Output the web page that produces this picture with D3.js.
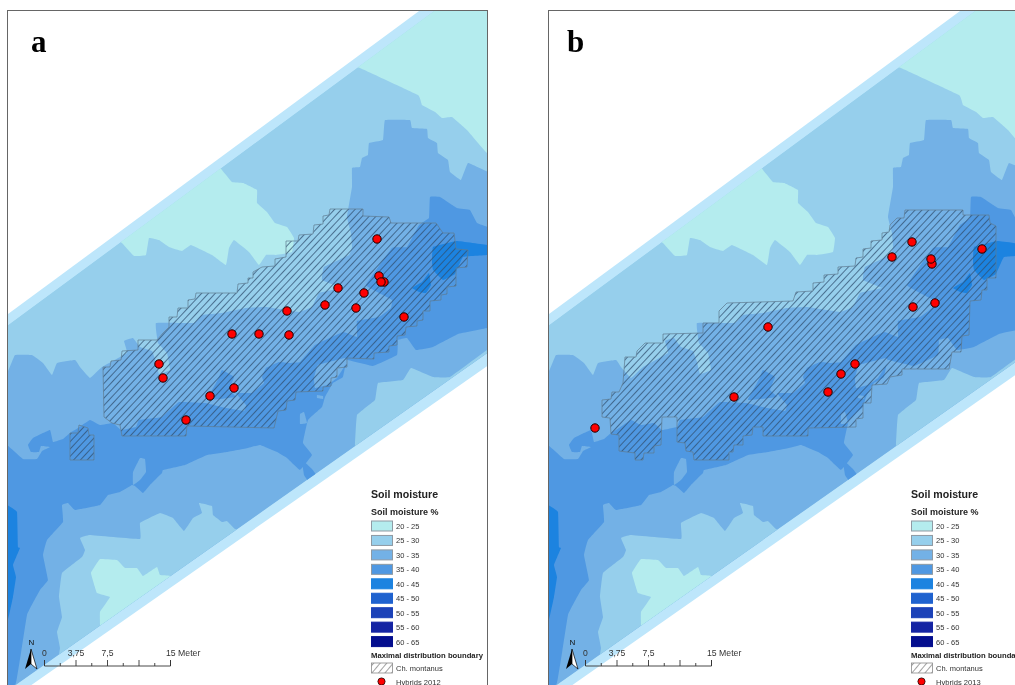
<!DOCTYPE html>
<html>
<head>
<meta charset="utf-8">
<style>
  html, body { margin: 0; padding: 0; background: #fff; overflow: hidden; }
  svg { display: block; filter: blur(0.45px); }
  text { font-family: "Liberation Sans", Arial, sans-serif; }
</style>
<script src="https://cdnjs.cloudflare.com/ajax/libs/d3/7.8.5/d3.min.js"></script>
</head>
<body>
<svg width="1015" height="685"></svg>
<script>
// soil moisture classes
var classLabels = ["20 - 25", "25 - 30", "30 - 35", "35 - 40", "40 - 45", "45 - 50", "50 - 55", "55 - 60", "60 - 65"];
var classColors = ["#b4ecee", "#96cfec", "#73b1e6", "#4f98e2", "#1c83e0", "#1f62cf", "#1c42b8", "#1524a3", "#040e8e"];

// map outlines, in map units
var outerBand = [[0,320],[434,0],[520,0],[520,343],[0,707]];
var innerBand = [[0,331],[449,0],[520,0],[520,330],[0,696]];

var tealNorth = [[340,60],[360,68],[418,95],[422,105],[435,112],[442,118],[452,117],[467,130],[487,153],[520,170],[520,-20],[430,-20]];
var tealMiddle = [[222,170],[232,182],[243,183],[257,190],[257,203],[267,212],[275,223],[287,227],[294,238],[292,252],[276,255],[266,255],[259,265],[249,252],[234,240],[229,248],[226,265],[212,255],[191,245],[182,251],[169,247],[159,240],[149,238],[146,255],[134,256],[122,243],[100,220],[200,140]];
var tealSouth = [[100,559],[117,560],[125,568],[137,568],[143,576],[157,567],[160,575],[170,576],[200,600],[100,680],[100,625],[100,612],[110,597],[97,593],[91,573]];

var zone30 = [[-10,376],[8,371],[15,355],[32,355],[43,363],[52,375],[57,363],[75,360],[80,367],[90,378],[102,367],[127,353],[124,341],[133,338],[140,347],[152,351],[156,362],[159,374],[170,370],[167,353],[158,343],[156,323],[194,323],[202,315],[222,313],[246,308],[266,307],[299,312],[312,307],[319,293],[341,288],[322,280],[324,267],[349,255],[352,247],[351,233],[347,217],[352,187],[352,168],[360,167],[362,158],[368,155],[369,143],[383,140],[385,120],[410,120],[412,128],[427,129],[428,138],[437,143],[438,153],[448,160],[450,172],[461,180],[468,163],[488,172],[520,190],[520,720],[-10,720]];
var patchEast = [[355,445],[357,415],[375,400],[378,383],[403,380],[411,368],[433,377],[450,377],[487,350],[520,330],[520,380],[355,480]];
var patchWest = [[80,538],[90,535],[140,539],[140,523],[160,513],[173,518],[184,531],[193,518],[202,513],[199,503],[212,506],[213,515],[222,522],[227,521],[235,529],[260,540],[60,680],[60,648],[57,632],[62,617],[59,597],[62,573],[82,557],[85,550]];

var zone35 = [[-10,440],[7,445],[23,459],[37,459],[42,451],[50,447],[41,446],[39,452],[31,452],[28,445],[33,438],[50,430],[53,442],[63,439],[70,433],[78,428],[90,420],[100,425],[113,423],[121,430],[136,427],[139,420],[162,417],[179,402],[205,403],[226,408],[244,411],[246,405],[236,393],[252,393],[264,383],[262,377],[266,368],[279,362],[289,363],[300,362],[315,345],[343,332],[357,337],[357,321],[379,317],[391,308],[392,300],[383,295],[366,285],[392,248],[407,247],[419,225],[429,218],[430,197],[440,197],[457,208],[470,210],[477,223],[488,227],[520,235],[520,320],[487,328],[458,334],[433,347],[416,350],[407,338],[398,340],[397,355],[373,366],[347,360],[343,377],[333,383],[325,397],[322,407],[308,420],[303,443],[312,455],[300,470],[287,458],[277,452],[260,445],[248,448],[227,452],[207,455],[185,465],[163,470],[162,473],[150,485],[143,493],[135,486],[132,485],[120,492],[108,495],[100,505],[75,510],[68,503],[62,505],[63,522],[47,540],[43,555],[48,580],[40,590],[27,615],[16,683],[-10,700]];
var patch35 = [[222,370],[234,377],[229,390],[236,397],[207,400],[216,383],[219,377]];
var patch35South = [[302,460],[312,469],[316,475],[309,482],[304,475]];

var island30a = [[133,485],[133,472],[140,458],[145,459],[146,472],[140,480]];
var island30b = [[318,365],[345,358],[347,362],[337,378],[327,385],[315,388],[314,378]];
var island30c = [[300,414],[304,412],[307,423],[300,424]];
var island30d = [[317,395],[323,396],[323,399],[317,398]];

var zone40 = [[432,262],[433,247],[457,241],[488,245],[520,246],[520,254],[488,255],[463,257],[455,274],[443,280],[433,270]];
var zone40b = [[412,288],[422,282],[429,273],[431,285],[426,293],[419,292]];
var zone40c = [[-10,500],[7,505],[17,512],[18,547],[20,548],[13,565],[16,577],[13,597],[7,623],[-10,630]];

// drawing order, class index first
var zones = [
  [2, zone30], [1, patchEast], [1, patchWest],
  [0, tealNorth], [0, tealMiddle], [0, tealSouth],
  [3, zone35], [3, patch35], [3, patch35South],
  [2, island30a], [2, island30b], [2, island30c], [2, island30d],
  [4, zone40], [4, zone40b], [4, zone40c]
];

// Ch. montanus boundary 2012
var hatch2012 = [[103,367],[110,367],[111,361],[121,360],[122,351],[138,350],[138,340],[157,340],[163,333],[169,327],[169,317],[177,317],[178,308],[188,308],[188,300],[195,299],[196,293],[237,293],[238,284],[248,283],[248,278],[253,278],[253,272],[262,267],[275,266],[275,259],[286,257],[286,241],[298,241],[299,235],[313,234],[314,225],[323,224],[323,216],[329,215],[330,209],[363,209],[363,216],[389,217],[391,223],[436,223],[443,233],[454,233],[456,249],[468,250],[467,267],[456,268],[456,286],[447,287],[447,294],[441,295],[441,300],[430,301],[430,311],[423,311],[423,320],[417,321],[417,326],[406,327],[405,335],[397,336],[397,345],[389,346],[389,352],[374,353],[374,359],[347,358],[347,367],[337,368],[337,377],[331,378],[331,386],[323,387],[323,391],[296,392],[295,400],[287,401],[286,410],[278,411],[274,428],[187,426],[186,436],[122,436],[120,425],[112,423],[104,417]];
var hatch2012b = [[70,460],[70,433],[78,433],[79,425],[88,428],[89,435],[94,435],[94,460]];

// Ch. montanus boundary 2013
var hatch2013 = [[364,210],[422,210],[422,215],[448,215],[449,223],[455,226],[455,278],[446,278],[446,290],[441,290],[440,300],[429,301],[428,335],[421,336],[420,352],[411,352],[408,369],[361,369],[361,375],[349,377],[346,384],[331,385],[330,403],[322,403],[322,418],[315,419],[315,427],[267,428],[267,436],[222,436],[222,427],[212,427],[211,435],[202,436],[202,445],[193,445],[192,452],[188,452],[188,460],[153,460],[152,452],[145,451],[144,443],[136,442],[136,417],[121,417],[120,445],[113,446],[113,453],[103,453],[102,460],[94,460],[94,453],[78,451],[78,435],[70,434],[69,418],[61,417],[61,400],[70,399],[71,392],[78,392],[82,383],[84,357],[95,357],[96,351],[104,343],[122,343],[122,334],[162,333],[162,323],[178,323],[178,311],[186,303],[252,301],[255,292],[272,291],[272,283],[283,282],[283,275],[297,274],[297,267],[314,266],[315,258],[322,257],[322,249],[330,248],[330,241],[341,240],[341,233],[348,232],[349,225],[356,218],[363,218]];

// hybrids
var hybrids2012 = [[377,239],[338,288],[364,293],[325,305],[356,308],[287,311],[404,317],[232,334],[259,334],[289,335],[159,364],[163,378],[234,388],[210,396],[186,420],[379,276],[384,282],[381,282]];
var hybrids2013 = [[371,242],[351,257],[391,264],[390,259],[441,249],[394,303],[372,307],[227,327],[314,364],[300,374],[287,392],[193,397],[54,428]];

var scaleTicks = [0, 1.875, 3.75, 5.625, 7.5, 9.375, 11.25, 13.125, 15];
var scaleLabels = [[0, "0"], [3.75, "3,75"], [7.5, "7,5"]];

var svg = d3.select("svg");
var defs = svg.append("defs");

var hatchDef = defs.append("pattern")
  .attr("id", "hatch")
  .attr("patternUnits", "userSpaceOnUse")
  .attr("width", 5)
  .attr("height", 5)
  .attr("patternTransform", "rotate(-47)");
hatchDef.append("line")
  .attr("x1", 0).attr("x2", 5)
  .attr("y1", 2.5).attr("y2", 2.5)
  .attr("stroke", "#2f4f6f")
  .attr("stroke-width", 0.95)
  .attr("stroke-opacity", 0.78);

var legendPattern = defs.append("pattern")
  .attr("id", "hatchLegend")
  .attr("patternUnits", "userSpaceOnUse")
  .attr("width", 5).attr("height", 5)
  .attr("patternTransform", "rotate(-50)");
legendPattern.append("line")
  .attr("x1", 0).attr("x2", 5).attr("y1", 2.5).attr("y2", 2.5)
  .attr("stroke", "#8a8a8a").attr("stroke-width", 0.8);

function drawPanel(opt) {
  var x = d3.scaleLinear().domain([0, 1000]).range([opt.dx, opt.dx + 1000]),
      y = d3.scaleLinear().domain([0, 1000]).range([0, 1000]);

  var outline = d3.line()
    .x(function (d) { return x(d[0]); })
    .y(function (d) { return y(d[1]); })
    .curve(d3.curveLinearClosed);

  // just rounds the corners of the contours a bit
  var contour = d3.line()
    .x(function (d) { return x(d[0]); })
    .y(function (d) { return y(d[1]); })
    .curve(d3.curveCardinalClosed.tension(0.8));

  var frameX = x(7.5), frameY = y(10.5), frameW = 480, frameH = 690;

  defs.append("clipPath").attr("id", "frame" + opt.name)
    .append("rect").attr("x", frameX).attr("y", frameY).attr("width", frameW).attr("height", frameH);
  defs.append("clipPath").attr("id", "inner" + opt.name)
    .append("path").attr("d", outline(innerBand));

  var g = svg.append("g").attr("class", "panel");
  var map = g.append("g").attr("clip-path", "url(#frame" + opt.name + ")");

  map.append("path").attr("d", outline(outerBand)).attr("fill", "#bde6fb");

  var inner = map.append("g").attr("clip-path", "url(#inner" + opt.name + ")");
  inner.append("path").attr("d", outline(innerBand)).attr("fill", classColors[1]);
  inner.selectAll("path.zone")
    .data(zones)
    .enter().append("path")
      .attr("class", "zone")
      .attr("d", function (d) { return contour(d[1]); })
      .attr("fill", function (d) { return classColors[d[0]]; });

  map.selectAll("path.boundary")
    .data(opt.hatch)
    .enter().append("path")
      .attr("class", "boundary")
      .attr("d", outline)
      .attr("fill", "url(#hatch)")
      .attr("stroke", "#5f7b90")
      .attr("stroke-width", 0.7);

  map.selectAll("circle")
    .data(opt.points)
    .enter().append("circle")
      .attr("cx", function (d) { return x(d[0]); })
      .attr("cy", function (d) { return y(d[1]); })
      .attr("r", 4.2)
      .attr("fill", "#ff0000")
      .attr("stroke", "#1a0000")
      .attr("stroke-width", 1);

  g.append("rect")
    .attr("x", frameX).attr("y", frameY)
    .attr("width", frameW).attr("height", frameH)
    .attr("fill", "none")
    .attr("stroke", "#666")
    .attr("stroke-width", 1);

  g.append("text")
    .attr("x", x(opt.letterX)).attr("y", 52)
    .style("font-family", "'Liberation Serif', serif")
    .style("font-weight", "bold")
    .style("font-size", "31px")
    .text(opt.letter);

  drawScaleBar(g, x);
  drawLegend(g, opt.legendDx, opt.year);
}

function drawScaleBar(g, x) {
  var m = d3.scaleLinear().domain([0, 15]).range([x(44.5), x(170.5)]);

  g.append("path")
    .attr("d", "M" + m(0) + ",660V666H" + m(15) + "V660")
    .attr("fill", "none").attr("stroke", "#333").attr("stroke-width", 0.9);

  g.selectAll("line.tick")
    .data(scaleTicks)
    .enter().append("line")
      .attr("class", "tick")
      .attr("x1", m).attr("x2", m)
      .attr("y1", 666)
      .attr("y2", function (d) { return d % 3.75 === 0 ? 660 : 663; })
      .attr("stroke", "#333").attr("stroke-width", 0.9);

  g.selectAll("text.tickLabel")
    .data(scaleLabels)
    .enter().append("text")
      .attr("class", "tickLabel")
      .attr("x", function (d) { return m(d[0]); })
      .attr("y", 655.5)
      .attr("text-anchor", "middle")
      .style("font-size", "8.6px")
      .attr("fill", "#333")
      .text(function (d) { return d[1]; });

  g.append("text")
    .attr("x", m(15) - 4.5).attr("y", 655.5)
    .style("font-size", "8.7px").attr("fill", "#333")
    .text("15 Meter");

  // north arrow
  g.append("text")
    .attr("x", x(31.5)).attr("y", 645)
    .attr("text-anchor", "middle")
    .style("font-size", "8px").attr("fill", "#111")
    .text("N");
  g.append("path")
    .attr("d", "M" + x(31) + ",649L" + x(25) + ",669L" + x(31) + ",664Z")
    .attr("fill", "#000");
  g.append("path")
    .attr("d", "M" + x(31) + ",649L" + x(37) + ",669L" + x(31) + ",664Z")
    .attr("fill", "#fff").attr("stroke", "#000").attr("stroke-width", 0.7);
}

function drawLegend(g, dx, year) {
  var l = g.append("g").attr("transform", "translate(" + dx + ",0)");

  l.append("text").attr("x", 371).attr("y", 498)
    .style("font-size", "10.6px").style("font-weight", "bold").attr("fill", "#222")
    .text("Soil moisture");
  l.append("text").attr("x", 371).attr("y", 515)
    .style("font-size", "9px").style("font-weight", "bold").attr("fill", "#222")
    .text("Soil moisture %");

  var row = d3.scaleBand().domain(classLabels).range([521, 521 + 14.45 * 9]);

  l.selectAll("rect.swatch")
    .data(classLabels)
    .enter().append("rect")
      .attr("class", "swatch")
      .attr("x", 371.5)
      .attr("y", function (d) { return row(d); })
      .attr("width", 21).attr("height", 10)
      .attr("fill", function (d, i) { return classColors[i]; })
      .attr("stroke", function (d, i) { return i < 4 ? "#8f9aa3" : classColors[i]; })
      .attr("stroke-width", 1);

  l.selectAll("text.swatchLabel")
    .data(classLabels)
    .enter().append("text")
      .attr("class", "swatchLabel")
      .attr("x", 396)
      .attr("y", function (d) { return row(d) + 8; })
      .style("font-size", "7.5px").attr("fill", "#333")
      .text(function (d) { return d; });

  l.append("text").attr("x", 371).attr("y", 657.5)
    .style("font-size", "7.7px").style("font-weight", "bold").attr("fill", "#222")
    .text("Maximal distribution boundary");

  l.append("rect")
    .attr("x", 371.5).attr("y", 663)
    .attr("width", 21).attr("height", 10)
    .attr("fill", "url(#hatchLegend)")
    .attr("stroke", "#8a8a8a").attr("stroke-width", 0.8);
  l.append("text").attr("x", 396).attr("y", 671)
    .style("font-size", "7.5px").attr("fill", "#333")
    .text("Ch. montanus");

  l.append("circle").attr("cx", 381.5).attr("cy", 681.5).attr("r", 3.6)
    .attr("fill", "#ff0000").attr("stroke", "#1a0000").attr("stroke-width", 0.8);
  l.append("text").attr("x", 396).attr("y", 684.5)
    .style("font-size", "7.6px").attr("fill", "#333")
    .text("Hybrids " + year);
}

drawPanel({ name: "A", dx: 0, letter: "a", letterX: 31, hatch: [hatch2012, hatch2012b], points: hybrids2012, legendDx: 0, year: 2012 });
drawPanel({ name: "B", dx: 541, letter: "b", letterX: 26, hatch: [hatch2013], points: hybrids2013, legendDx: 540, year: 2013 });
</script>
</body>
</html>
